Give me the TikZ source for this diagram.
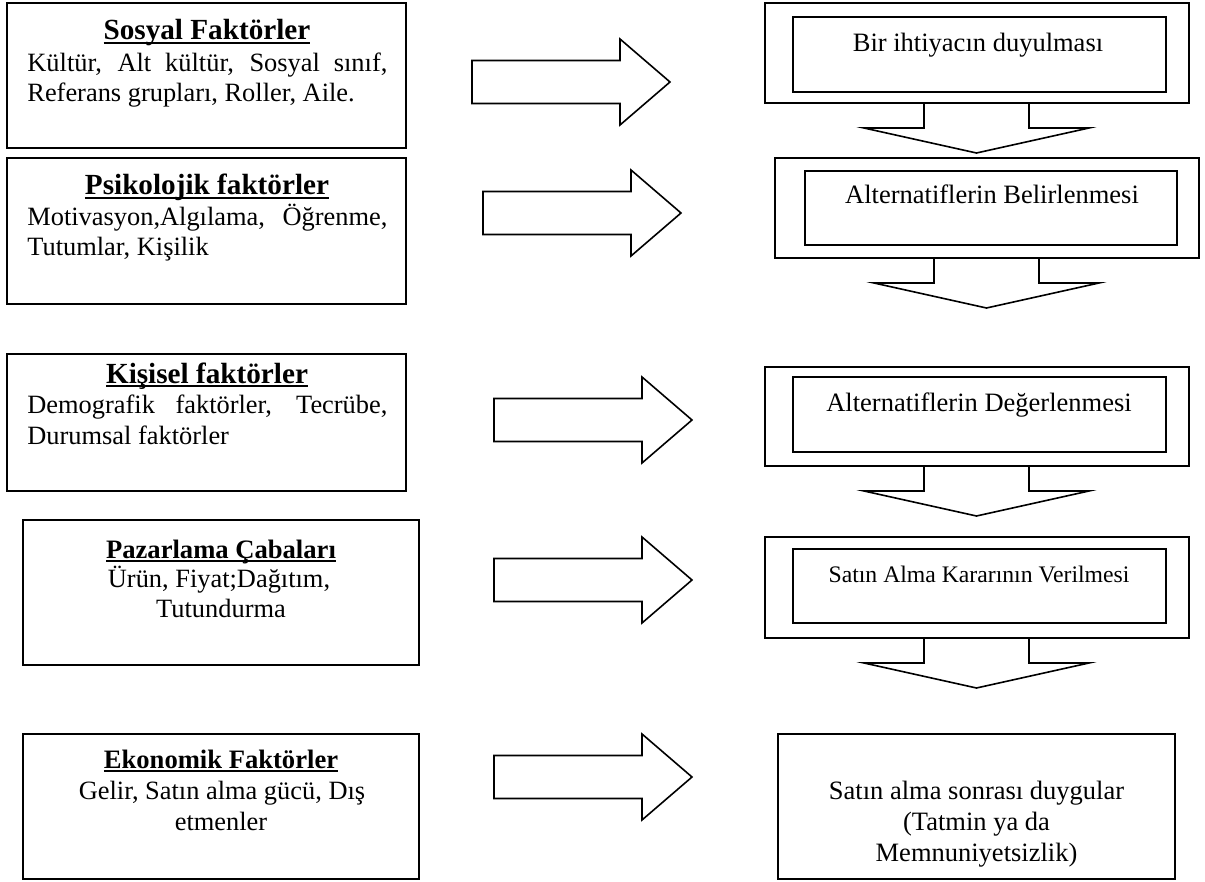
\documentclass[tikz,border=0pt]{standalone}
\usepackage{fontspec}
\setmainfont{Liberation Serif}
\usetikzlibrary{fit}
\newsavebox\myulbox
\newcommand\myul[1]{\sbox\myulbox{#1}\rlap{\rule[-1.9pt]{\wd\myulbox}{0.9pt}}\usebox\myulbox}
\newcommand\harrow[2]{\draw[arr] (#1,#2-21.5) -- ++(148,0) -- ++(0,-21.5) -- ++(50,43) -- ++(-50,43) -- ++(0,-21.5) -- ++(-148,0) -- cycle;}
\newcommand\darrow[2]{\draw[arr] (#1-52.5,#2) -- (#1-52.5,#2+25) -- (#1-112.5,#2+25) -- (#1,#2+50) -- (#1+112.5,#2+25) -- (#1+52.5,#2+25) -- (#1+52.5,#2);}
\begin{document}
\begin{tikzpicture}[x=0.5pt,y=-0.5pt,
  box/.style={draw,line width=1pt,inner sep=0pt},
  arr/.style={draw,line width=0.8pt,line join=miter},
  txt/.style={inner sep=0pt},
  ttl/.style={txt,anchor=base,font=\fontsize{14.6}{17}\selectfont\bfseries},
  ttlb/.style={txt,anchor=base,font=\fontsize{13.3}{16}\selectfont\bfseries},
  bodyl/.style={txt,anchor=base west,font=\fontsize{13.2}{15}\selectfont},
  bodyc/.style={txt,anchor=base,font=\fontsize{13.2}{15}\selectfont},
  rt/.style={txt,anchor=base,font=\fontsize{13.25}{15}\selectfont}]
\useasboundingbox (0,0) rectangle (1205,882);
\fill[white] (0,0) rectangle (1205,882);
% left boxes
\node[box,fit={(7,3) (406,148)}] (L1) {};
\node[box,fit={(7,158) (406,304)}] (L2) {};
\node[box,fit={(7,354) (406,491)}] (L3) {};
\node[box,fit={(23,520) (419,665)}] (L4) {};
\node[box,fit={(23,734) (419,879)}] (L5) {};
\node[ttl] (L1t) at (207,40) {\myul{Sosyal Faktörler}};
\node[bodyl] (L1a) at (27,72) {\makebox[180pt][s]{Kültür, Alt kültür, Sosyal sınıf,}};
\node[bodyl] (L1b) at (27,102) {Referans grupları, Roller, Aile.};
\node[ttl] (L2t) at (207,195) {\myul{Psikolojik faktörler}};
\node[bodyl] (L2a) at (27,226) {\makebox[180pt][s]{Motivasyon,Algılama, Öğrenme,}};
\node[bodyl] (L2b) at (27,256) {Tutumlar, Kişilik};
\node[ttl] (L3t) at (207,383) {\myul{Kişisel faktörler}};
\node[bodyl] (L3a) at (27,413) {\makebox[180pt][s]{Demografik faktörler, Tecrübe,}};
\node[bodyl] (L3b) at (27,444) {Durumsal faktörler};
\node[ttlb] (L4t) at (221,558) {\myul{Pazarlama Çabaları}};
\node[bodyc] (L4a) at (219,587) {Ürün, Fiyat;Dağıtım,};
\node[bodyc] (L4b) at (221,617) {Tutundurma};
\node[ttlb] (L5t) at (221,768) {\myul{Ekonomik Faktörler}};
\node[bodyc] (L5a) at (222,799) {Gelir, Satın alma gücü, Dış};
\node[bodyc] (L5b) at (221,830) {etmenler};
% horizontal arrows
\harrow{472}{82}
\harrow{483}{213}
\harrow{494}{420}
\harrow{494}{580}
\harrow{494}{777}
% right boxes
\node[box,fit={(765,3) (1189,103)}] (R1) {};
\node[box,fit={(793,17) (1166,92)}] (R1i) {};
\node[box,fit={(775,158) (1199,258)}] (R2) {};
\node[box,fit={(805,171) (1177,245)}] (R2i) {};
\node[box,fit={(765,367) (1189,466)}] (R3) {};
\node[box,fit={(793,377) (1166,452)}] (R3i) {};
\node[box,fit={(765,537) (1189,638)}] (R4) {};
\node[box,fit={(793,549) (1166,623)}] (R4i) {};
\node[box,fit={(778,734) (1175,879)}] (R5) {};
\node[rt] (R1t) at (978,52) {Bir ihtiyacın duyulması};
\node[rt] (R2t) at (992,204) {Alternatiflerin Belirlenmesi};
\node[rt] (R3t) at (979,411) {Alternatiflerin Değerlenmesi};
\node[rt,font=\fontsize{11.85}{14}\selectfont] (R4t) at (979,582) {Satın Alma Kararının Verilmesi};
\node[rt] (R5a) at (976.5,799) {Satın alma sonrası duygular};
\node[rt] (R5b) at (976.5,830) {(Tatmin ya da};
\node[rt] (R5c) at (976.5,861) {Memnuniyetsizlik)};
% down arrows
\darrow{976.5}{103}
\darrow{986.5}{258}
\darrow{976.5}{466}
\darrow{976.5}{638}
\end{tikzpicture}
\end{document}
